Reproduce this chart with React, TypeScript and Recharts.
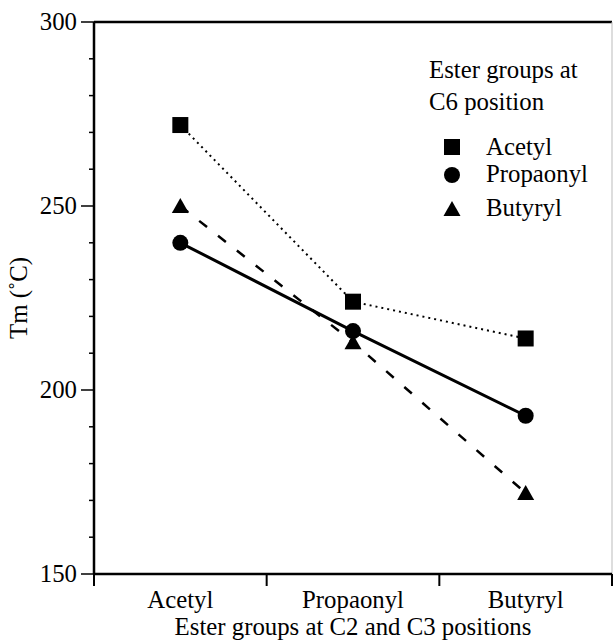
import React from 'react';
import { LineChart, Line, XAxis, YAxis, ReferenceLine, Legend } from 'recharts';

const categories = ['Acetyl', 'Propaonyl', 'Butyryl'];
const acetylC6 = [272, 224, 214];
const propaonylC6 = [240, 216, 193];
const butyrylC6 = [250, 213, 172];
const seriesNames = ['Acetyl', 'Propaonyl', 'Butyryl'];
const yTicks = [150, 160, 170, 180, 190, 200, 210, 220, 230, 240, 250, 260, 270, 280, 290, 300];
const yLabelTicks = [150, 200, 250, 300];
const xTicks = [0, 0.5, 1, 1.5, 2, 2.5, 3];
const xAxisTitle = 'Ester groups at C2 and C3 positions';
const yAxisTitle = 'Tm (\u02DAC)';
const legendTitle = ['Ester groups at', 'C6 position'];

const data = categories.map((c, i) => ({
  pos: i + 0.5,
  name: c,
  acetyl: acetylC6[i],
  propaonyl: propaonylC6[i],
  butyryl: butyrylC6[i],
}));

const FONT = '"Liberation Serif", "Times New Roman", serif';
const FS = 24.8;
const TS: React.CSSProperties = { fontFamily: FONT, fontSize: FS };

type Shape = 'square' | 'circle' | 'triangle';

const marker = (shape: Shape, cx: number, cy: number, key?: string) => {
  if (shape === 'square') {
    return <rect key={key} x={cx - 8} y={cy - 8} width={16} height={16} fill="#000" />;
  }
  if (shape === 'circle') {
    return <circle key={key} cx={cx} cy={cy} r={8} fill="#000" />;
  }
  return (
    <polygon
      key={key}
      points={`${cx},${cy - 8} ${cx + 8.5},${cy + 7} ${cx - 8.5},${cy + 7}`}
      fill="#000"
    />
  );
};

const XTick = (props: any) => {
  const { x, y, payload } = props;
  const v = payload.value;
  if (Number.isInteger(v)) {
    return <line x1={x} x2={x} y1={y} y2={y + 12} stroke="#000" strokeWidth={2} />;
  }
  return (
    <text x={x} y={y + 34} textAnchor="middle" style={TS} fill="#000">
      {categories[Math.floor(v)]}
    </text>
  );
};

const YTick = (props: any) => {
  const { x, y, payload } = props;
  const v = payload.value;
  const major = yLabelTicks.includes(v);
  return (
    <g>
      <line x1={x - (major ? 13 : 5)} x2={x} y1={y} y2={y} stroke="#000" strokeWidth={1.5} />
      {major && (
        <text x={x - 17} y={y + 8} textAnchor="end" style={TS} fill="#000">
          {v}
        </text>
      )}
    </g>
  );
};

const shapes: Shape[] = ['square', 'circle', 'triangle'];

const LegendContent = () => (
  <svg width={613} height={641} style={{ display: 'block' }}>
    <text x={429} y={78} style={TS} fill="#000">{legendTitle[0]}</text>
    <text x={429} y={110} style={TS} fill="#000">{legendTitle[1]}</text>
    {seriesNames.map((n, i) => {
      const cy = [147, 175, 209][i];
      const ty = [155, 182, 216][i];
      return (
        <g key={n}>
          {marker(shapes[i], 452, cy)}
          <text x={486} y={ty} style={TS} fill="#000">{n}</text>
        </g>
      );
    })}
  </svg>
);

export default function App() {
  return (
    <div style={{ position: 'absolute', left: 0, top: 0, width: 613, height: 641, background: '#fff', fontFamily: FONT }}>
      <LineChart width={613} height={641} data={data} margin={{ top: 22, right: 1, left: 0, bottom: 0 }}>
        <XAxis
          dataKey="pos"
          type="number"
          domain={[0, 3]}
          ticks={xTicks}
          interval={0}
          tickSize={0}
          tickMargin={0}
          tick={<XTick />}
          axisLine={{ stroke: '#000', strokeWidth: 2.5 }}
          tickLine={false}
          height={67}
          label={{
            content: (p: any) => {
              const vb = p.viewBox;
              return (
                <text x={vb.x + vb.width / 2} y={vb.y + 61} textAnchor="middle" style={TS} fill="#000">
                  {xAxisTitle}
                </text>
              );
            },
          }}
        />
        <YAxis
          type="number"
          domain={[150, 300]}
          ticks={yTicks}
          interval={0}
          tickSize={0}
          tickMargin={0}
          tick={<YTick />}
          axisLine={{ stroke: '#000', strokeWidth: 2.5 }}
          tickLine={false}
          width={94}
          label={{
            content: () => (
              <text x={27} y={298} transform="rotate(-90 27 298)" textAnchor="middle" style={TS} fill="#000">
                {yAxisTitle}
              </text>
            ),
          }}
        />
        <ReferenceLine y={300} stroke="#000" strokeWidth={2.5} />
        <ReferenceLine x={3} stroke="#bbb" strokeWidth={1} />
        <Legend
          layout="vertical"
          align="center"
          verticalAlign="middle"
          wrapperStyle={{ left: 0, top: 0, width: 613, height: 641, pointerEvents: 'none' }}
          content={() => <LegendContent />}
        />
        <Line
          dataKey="acetyl"
          name={seriesNames[0]}
          stroke="#000"
          strokeWidth={2}
          strokeDasharray="2 4"
          isAnimationActive={false}
          activeDot={false}
          dot={(p: any) => marker('square', p.cx, p.cy, `a${p.index}`)}
        />
        <Line
          dataKey="propaonyl"
          name={seriesNames[1]}
          stroke="#000"
          strokeWidth={3}
          isAnimationActive={false}
          activeDot={false}
          dot={(p: any) => marker('circle', p.cx, p.cy, `p${p.index}`)}
        />
        <Line
          dataKey="butyryl"
          name={seriesNames[2]}
          stroke="#000"
          strokeWidth={2.5}
          strokeDasharray="10 14"
          isAnimationActive={false}
          activeDot={false}
          dot={(p: any) => marker('triangle', p.cx, p.cy, `b${p.index}`)}
        />
      </LineChart>
    </div>
  );
}
